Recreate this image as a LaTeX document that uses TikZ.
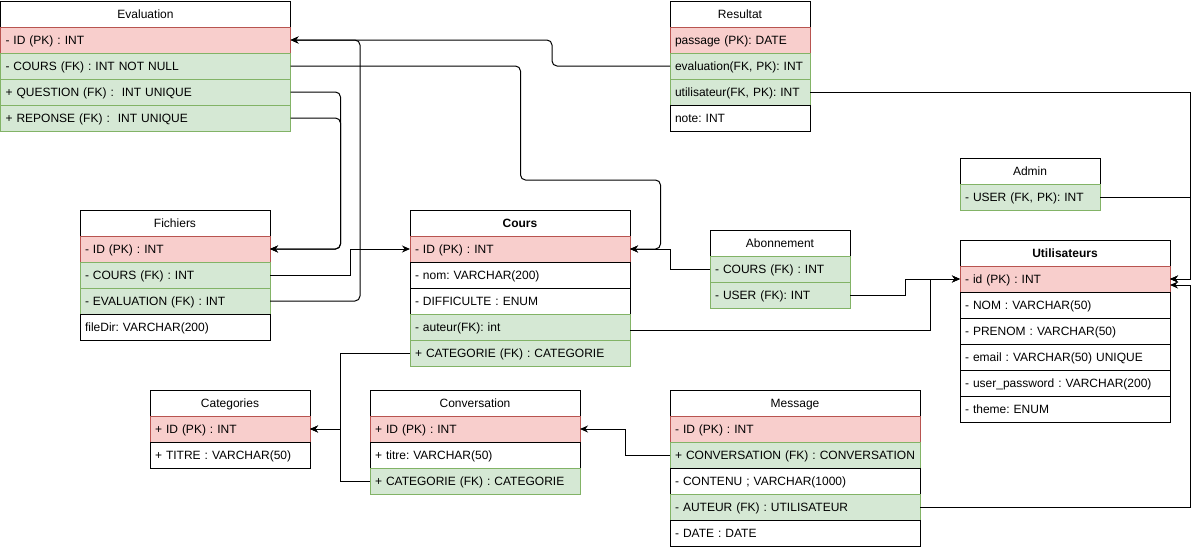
\documentclass[tikz,border=0pt]{standalone}
\usepackage{fontspec}
\setmainfont{Liberation Sans}
\usepackage{tikz}
\usetikzlibrary{positioning,arrows.meta}
\frenchspacing
\definecolor{pkfill}{HTML}{F8CECC}
\definecolor{pkline}{HTML}{B85450}
\definecolor{fkfill}{HTML}{D5E8D4}
\definecolor{fkline}{HTML}{82B366}
\tikzset{
  row/.style={draw, line width=1pt, outer sep=0pt, minimum height=26pt, inner xsep=5pt,
    text width=#1, align=left, text height=11pt, text depth=3pt, font=\fontsize{12}{14}\selectfont},
  hdr/.style={row=#1, align=center, fill=white},
  fld/.style={row=#1, fill=white},
  pk/.style={row=#1, fill=pkfill, draw=pkline},
  fk/.style={row=#1, fill=fkfill, draw=fkline},
  link/.style={line width=1pt, -{Stealth[length=8pt,width=7pt]}}
}
\begin{document}
\begin{tikzpicture}[x=1pt,y=-1pt]
\useasboundingbox (0,0) rectangle (1199,550);

\node[hdr=280pt, anchor=north west] (ev) at (0.5,1) {Evaluation};
\node[pk=280pt, below=0pt of ev] (ev-id) {- ID (PK) : INT};
\node[fk=280pt, below=0pt of ev-id] (ev-cours) {- COURS (FK) : INT NOT NULL};
\node[fk=280pt, below=0pt of ev-cours] (ev-quest) {+ QUESTION (FK) :~ INT UNIQUE};
\node[fk=280pt, below=0pt of ev-quest] (ev-rep) {+ REPONSE (FK) :~ INT UNIQUE};

\node[hdr=130pt, anchor=north west] (res) at (670,1) {Resultat};
\node[pk=130pt, below=0pt of res] (res-pass) {passage (PK): DATE};
\node[fk=130pt, below=0pt of res-pass] (res-eval) {evaluation(FK, PK): INT};
\node[fk=130pt, below=0pt of res-eval] (res-util) {utilisateur(FK, PK): INT};
\node[fld=130pt, below=0pt of res-util] (res-note) {note: INT};

\node[hdr=180pt, anchor=north west] (fi) at (80,210) {Fichiers};
\node[pk=180pt, below=0pt of fi] (fi-id) {- ID (PK) : INT};
\node[fk=180pt, below=0pt of fi-id] (fi-cours) {- COURS (FK) : INT};
\node[fk=180pt, below=0pt of fi-cours] (fi-eval) {- EVALUATION (FK) : INT};
\node[fld=180pt, below=0pt of fi-eval] (fi-dir) {fileDir: VARCHAR(200)};

\node[hdr=210pt, anchor=north west] (co) at (410,210) {\textbf{Cours}};
\node[pk=210pt, below=0pt of co] (co-id) {- ID (PK) : INT};
\node[fld=210pt, below=0pt of co-id] (co-nom) {- nom: VARCHAR(200)};
\node[fld=210pt, below=0pt of co-nom] (co-diff) {- DIFFICULTE : ENUM};
\node[fk=210pt, below=0pt of co-diff] (co-aut) {- auteur(FK): int};
\node[fk=210pt, below=0pt of co-aut] (co-cat) {+ CATEGORIE (FK) : CATEGORIE};

\node[hdr=130pt, anchor=north west] (ab) at (710,230) {Abonnement};
\node[fk=130pt, below=0pt of ab] (ab-cours) {- COURS (FK) : INT};
\node[fk=130pt, below=0pt of ab-cours] (ab-user) {- USER (FK): INT};

\node[hdr=130pt, anchor=north west] (ad) at (960,158) {Admin};
\node[fk=130pt, below=0pt of ad] (ad-user) {- USER (FK, PK): INT};

\node[hdr=200pt, anchor=north west] (ut) at (960,240) {\textbf{Utilisateurs}};
\node[pk=200pt, below=0pt of ut] (ut-id) {- id (PK) : INT};
\node[fld=200pt, below=0pt of ut-id] (ut-nom) {- NOM : VARCHAR(50)};
\node[fld=200pt, below=0pt of ut-nom] (ut-pren) {- PRENOM : VARCHAR(50)};
\node[fld=200pt, below=0pt of ut-pren] (ut-mail) {- email : VARCHAR(50) UNIQUE};
\node[fld=200pt, below=0pt of ut-mail] (ut-pass) {- user\_password : VARCHAR(200)};
\node[fld=200pt, below=0pt of ut-pass] (ut-theme) {- theme: ENUM};

\node[hdr=150pt, anchor=north west] (ca) at (150,390) {Categories};
\node[pk=150pt, below=0pt of ca] (ca-id) {+ ID (PK) : INT};
\node[fld=150pt, below=0pt of ca-id] (ca-titre) {+ TITRE : VARCHAR(50)};

\node[hdr=200pt, anchor=north west] (cv) at (370,390) {Conversation};
\node[pk=200pt, below=0pt of cv] (cv-id) {+ ID (PK) : INT};
\node[fld=200pt, below=0pt of cv-id] (cv-titre) {+ titre: VARCHAR(50)};
\node[fk=200pt, below=0pt of cv-titre] (cv-cat) {+ CATEGORIE (FK) : CATEGORIE};

\node[hdr=240pt, anchor=north west] (me) at (670,390) {Message};
\node[pk=240pt, below=0pt of me] (me-id) {- ID (PK) : INT};
\node[fk=240pt, below=0pt of me-id] (me-conv) {+ CONVERSATION (FK) : CONVERSATION};
\node[fld=240pt, below=0pt of me-conv] (me-cont) {- CONTENU ; VARCHAR(1000)};
\node[fk=240pt, below=0pt of me-cont] (me-aut) {- AUTEUR (FK) : UTILISATEUR};
\node[fld=240pt, below=0pt of me-aut] (me-date) {- DATE : DATE};

\draw[link, rounded corners=5pt] (res-eval.west) -- ++(-118,0) |- (ev-id.east);
\draw[link, rounded corners=5pt] (fi-eval.east) -- ++(90,0) |- (ev-id.east);
\draw[link, rounded corners=5pt] (ev-quest.east) -- ++(50,0) |- (fi-id.east);
\draw[link, rounded corners=5pt] (ev-rep.east) -- ++(50,0) |- (fi-id.east);
\draw[link, rounded corners=5pt] (ev-cours.east) -- ++(230,0) -- ++(0,114) -- ++(140,0) |- (co-id.east);
\draw[link] (fi-cours.east) -- ++(80,0) |- (co-id.west);
\draw[link] (ab-cours.west) -- ++(-40,0) |- (co-id.east);
\draw[link] (ab-user.east) -- ++(55,0) |- (ut-id.west);
\draw[link] ([yshift=-3pt]co-aut.east) -- ++(300,0) |- (ut-id.west);
\draw[link] (res-util.east) -- ++(380,0) |- (ut-id.east);
\draw[link] (ad-user.east) -- ++(90,0) |- (ut-id.east);
\draw[link] (me-aut.east) -- ++(270,0) |- ([yshift=-6pt]ut-id.east);
\draw[link] (co-cat.west) -- ++(-70,0) |- (ca-id.east);
\draw[link] (cv-cat.west) -- ++(-30,0) |- (ca-id.east);
\draw[link] (me-conv.west) -- ++(-45,0) |- (cv-id.east);
\end{tikzpicture}
\end{document}
